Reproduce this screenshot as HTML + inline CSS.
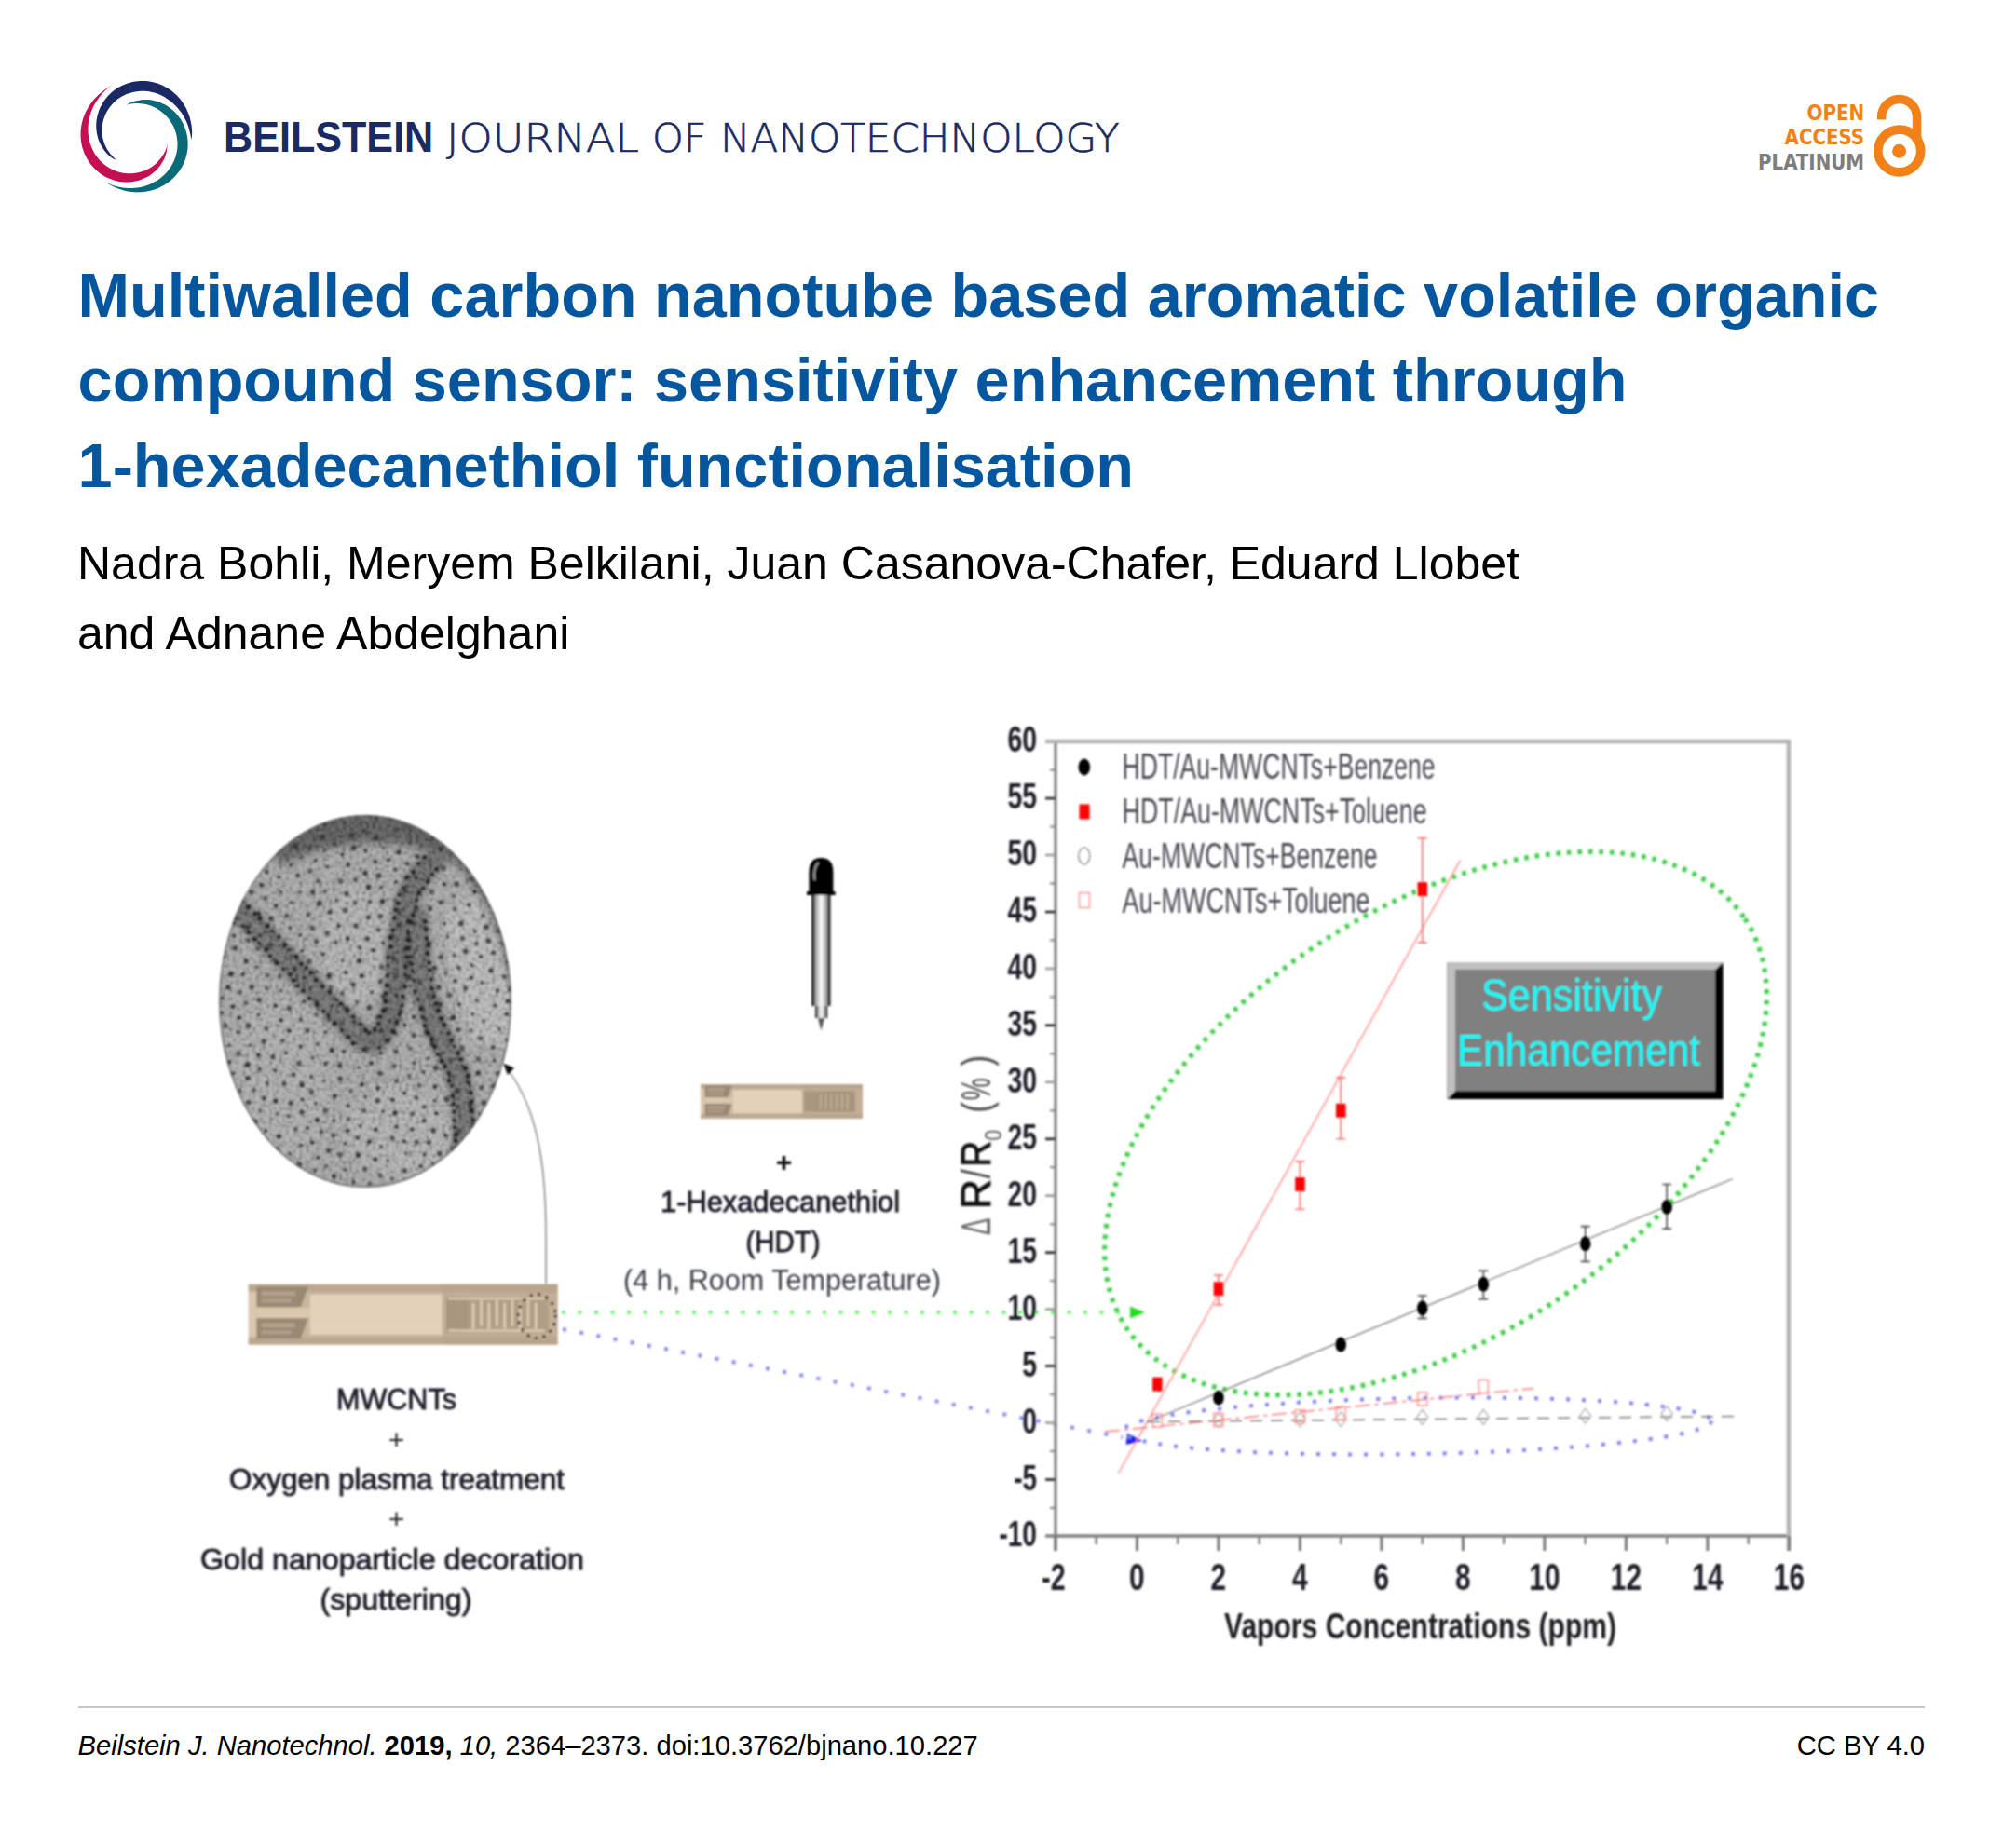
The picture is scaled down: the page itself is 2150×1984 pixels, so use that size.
<!DOCTYPE html>
<html lang="en">
<head>
<meta charset="utf-8">
<title>Beilstein Journal of Nanotechnology – Graphical Abstract</title>
<style>
html,body{margin:0;padding:0;background:#fff;}
#page{position:relative;width:2150px;height:1984px;background:#fff;overflow:hidden;font-family:"Liberation Sans",sans-serif;}
.abs{position:absolute;white-space:nowrap;}
#brand{left:0;top:119.5px;height:56px;line-height:56px;color:#1b2a63;}
#brand b,#brand span{position:absolute;top:0;display:inline-block;transform-origin:0 50%;}
#brand b{left:239.7px;font-family:"Liberation Sans",sans-serif;font-size:45.6px;font-weight:bold;transform:scaleX(0.946);}
#brand span{font-family:"DejaVu Sans",sans-serif;font-size:43px;font-weight:200;-webkit-text-stroke:0.6px #1b2a63;}
#brand .w1{left:478.9px;transform:scaleX(1.07);}
#brand .w2{left:700px;}
#brand .w3{left:772.8px;transform:scaleX(1.013);}
#oa{right:148.5px;top:107.5px;text-align:right;font-family:"DejaVu Sans Condensed","DejaVu Sans",sans-serif;font-weight:bold;font-size:23.2px;line-height:26.65px;color:#f28118;transform-origin:100% 50%;transform:scaleX(0.95);}
#oa .pl{color:#7d7d7d;}
#title{left:83.6px;top:271.6px;margin:0;font-size:66.67px;line-height:91.67px;font-weight:bold;color:#04569f;}
#authors{left:83px;top:567.5px;margin:0;font-size:50px;line-height:75px;color:#000;}
#rule{position:absolute;left:83.6px;top:1832.3px;width:1982.6px;height:2px;background:#c6c6c6;}
#cite{left:83.6px;top:1854px;font-size:29.17px;line-height:40px;color:#000;}
#lic{right:84px;top:1854px;font-size:29.17px;line-height:40px;color:#000;}
#fig{position:absolute;left:0;top:760px;}
</style>
</head>
<body>
<div id="page">

<div id="brand" class="abs"><b>BEILSTEIN</b> <span class="w1">JOURNAL</span> <span class="w2">OF</span> <span class="w3">NANOTECHNOLOGY</span></div>
<div id="oa" class="abs">OPEN<br>ACCESS<br><span class="pl">PLATINUM</span></div>

<h1 id="title" class="abs">Multiwalled carbon nanotube based aromatic volatile organic<br>compound sensor: sensitivity enhancement through<br>1-hexadecanethiol functionalisation</h1>
<p id="authors" class="abs">Nadra Bohli, Meryem Belkilani, Juan Casanova-Chafer, Eduard Llobet<br>and Adnane Abdelghani</p>
<svg id="art" width="2150" height="1984" viewBox="0 0 2150 1984" style="position:absolute;left:0;top:0">
<g id="logo">
<path fill="#1a2964" d="M205.44 150.17 C205.54 149.24 205.98 146.44 206.07 144.57 C206.16 142.71 206.08 140.83 205.96 138.98 C205.84 137.13 205.64 135.30 205.35 133.49 C205.06 131.68 204.69 129.89 204.24 128.13 C203.79 126.37 203.25 124.63 202.64 122.93 C202.03 121.24 201.34 119.57 200.58 117.94 C199.82 116.32 198.97 114.73 198.06 113.19 C197.14 111.65 196.15 110.15 195.10 108.71 C194.04 107.27 192.91 105.87 191.72 104.54 C190.53 103.21 189.27 101.93 187.95 100.73 C186.63 99.52 185.24 98.37 183.81 97.30 C182.37 96.23 180.87 95.23 179.33 94.31 C177.79 93.39 176.19 92.54 174.56 91.78 C172.92 91.02 171.24 90.33 169.53 89.74 C167.82 89.16 166.06 88.65 164.29 88.24 C162.52 87.83 160.72 87.51 158.90 87.29 C157.09 87.08 155.25 86.95 153.42 86.93 C151.58 86.90 149.73 86.98 147.90 87.15 C146.06 87.33 144.22 87.61 142.41 87.99 C140.60 88.36 138.79 88.84 137.02 89.42 C135.25 90.00 133.50 90.68 131.80 91.46 C130.10 92.24 128.43 93.11 126.82 94.08 C125.22 95.04 123.65 96.11 122.16 97.26 C120.67 98.40 119.23 99.64 117.87 100.96 C116.52 102.27 115.23 103.67 114.04 105.14 C112.84 106.60 111.72 108.14 110.71 109.74 C109.69 111.33 108.76 113.00 107.94 114.70 C107.12 116.41 106.39 118.17 105.78 119.96 C105.16 121.75 104.66 123.59 104.26 125.43 C103.87 127.28 103.59 129.16 103.42 131.03 C103.26 132.90 103.21 134.80 103.27 136.67 C103.34 138.54 103.52 140.42 103.81 142.26 C104.11 144.10 104.52 145.93 105.04 147.70 C105.56 149.47 106.19 151.22 106.93 152.90 C107.66 154.58 108.50 156.22 109.44 157.78 C110.37 159.33 111.41 160.83 112.52 162.23 C113.64 163.64 114.85 164.97 116.12 166.20 C117.40 167.43 118.70 168.64 120.16 169.60 C121.63 170.56 124.11 171.58 124.90 171.97 C124.33 171.38 122.60 169.61 121.46 168.40 C120.33 167.20 119.15 166.03 118.11 164.74 C117.08 163.45 116.12 162.07 115.25 160.65 C114.39 159.23 113.61 157.74 112.94 156.23 C112.26 154.71 111.68 153.13 111.20 151.54 C110.72 149.95 110.34 148.32 110.06 146.69 C109.78 145.05 109.60 143.39 109.53 141.74 C109.45 140.09 109.48 138.42 109.60 136.79 C109.72 135.15 109.95 133.51 110.27 131.90 C110.58 130.30 111.00 128.71 111.50 127.17 C111.99 125.62 112.59 124.11 113.26 122.64 C113.93 121.18 114.69 119.75 115.51 118.39 C116.34 117.02 117.24 115.71 118.21 114.46 C119.17 113.21 120.21 112.01 121.30 110.89 C122.39 109.77 123.54 108.70 124.73 107.72 C125.92 106.73 127.17 105.81 128.44 104.97 C129.72 104.13 131.04 103.36 132.39 102.66 C133.73 101.97 135.11 101.35 136.50 100.80 C137.90 100.26 139.32 99.79 140.75 99.39 C142.17 98.99 143.62 98.67 145.06 98.42 C146.51 98.17 147.97 98.00 149.42 97.89 C150.87 97.79 152.32 97.76 153.76 97.79 C155.21 97.82 156.65 97.93 158.07 98.09 C159.50 98.26 160.92 98.50 162.31 98.79 C163.71 99.09 165.10 99.45 166.46 99.86 C167.83 100.28 169.18 100.76 170.50 101.30 C171.82 101.83 173.13 102.43 174.41 103.08 C175.69 103.73 176.94 104.43 178.17 105.19 C179.40 105.95 180.61 106.77 181.78 107.64 C182.96 108.50 184.10 109.43 185.22 110.40 C186.34 111.37 187.42 112.40 188.48 113.48 C189.53 114.57 190.55 115.70 191.54 116.89 C192.52 118.08 193.47 119.32 194.38 120.62 C195.29 121.92 196.16 123.27 196.98 124.68 C197.80 126.09 198.59 127.55 199.32 129.08 C200.05 130.60 200.73 132.18 201.35 133.82 C201.97 135.45 202.55 137.15 203.05 138.90 C203.55 140.66 203.96 142.46 204.36 144.34 C204.75 146.22 205.26 149.20 205.44 150.17Z"/>
<path fill="#0b6a78" d="M135.40 112.67 C136.18 112.28 138.46 111.00 140.08 110.31 C141.70 109.61 143.38 108.99 145.11 108.51 C146.83 108.02 148.61 107.64 150.41 107.39 C152.20 107.14 154.04 107.01 155.88 107.00 C157.71 106.99 159.58 107.10 161.41 107.33 C163.25 107.56 165.10 107.92 166.91 108.39 C168.72 108.86 170.52 109.45 172.26 110.15 C174.01 110.86 175.73 111.68 177.38 112.60 C179.03 113.52 180.64 114.55 182.17 115.67 C183.70 116.79 185.18 118.02 186.56 119.32 C187.95 120.62 189.26 122.02 190.48 123.48 C191.70 124.94 192.84 126.49 193.87 128.09 C194.91 129.68 195.85 131.36 196.69 133.06 C197.52 134.77 198.26 136.53 198.89 138.32 C199.52 140.11 200.05 141.94 200.47 143.78 C200.88 145.62 201.19 147.50 201.39 149.37 C201.60 151.24 201.69 153.13 201.68 155.00 C201.67 156.87 201.55 158.75 201.33 160.60 C201.11 162.45 200.78 164.29 200.36 166.09 C199.94 167.89 199.42 169.67 198.81 171.41 C198.20 173.14 197.49 174.85 196.69 176.50 C195.90 178.14 195.02 179.75 194.06 181.29 C193.11 182.84 192.07 184.33 190.96 185.76 C189.85 187.18 188.67 188.55 187.43 189.85 C186.19 191.14 184.88 192.37 183.52 193.53 C182.16 194.68 180.73 195.77 179.27 196.78 C177.81 197.78 176.29 198.71 174.75 199.57 C173.20 200.42 171.60 201.20 169.98 201.89 C168.37 202.59 166.71 203.20 165.03 203.74 C163.36 204.27 161.65 204.73 159.93 205.10 C158.21 205.47 156.47 205.76 154.72 205.97 C152.97 206.19 151.21 206.32 149.44 206.36 C147.68 206.41 145.90 206.38 144.13 206.27 C142.36 206.16 140.58 205.96 138.81 205.69 C137.04 205.42 135.27 205.06 133.52 204.63 C131.76 204.19 130.01 203.68 128.28 203.09 C126.55 202.49 124.83 201.82 123.13 201.06 C121.43 200.31 119.75 199.47 118.10 198.55 C116.44 197.64 114.02 196.06 113.20 195.56 C114.10 195.96 116.78 197.24 118.57 197.94 C120.36 198.63 122.15 199.23 123.94 199.74 C125.72 200.25 127.50 200.66 129.26 200.99 C131.03 201.32 132.78 201.57 134.51 201.73 C136.24 201.90 137.96 201.98 139.64 201.99 C141.33 202.00 143.00 201.93 144.64 201.79 C146.28 201.65 147.89 201.44 149.47 201.16 C151.05 200.89 152.61 200.54 154.12 200.13 C155.64 199.73 157.12 199.26 158.57 198.73 C160.02 198.20 161.43 197.61 162.80 196.97 C164.17 196.32 165.51 195.62 166.80 194.87 C168.09 194.12 169.34 193.32 170.54 192.46 C171.75 191.61 172.91 190.71 174.02 189.76 C175.13 188.81 176.20 187.81 177.22 186.78 C178.24 185.74 179.20 184.66 180.12 183.54 C181.03 182.42 181.90 181.25 182.70 180.06 C183.50 178.86 184.26 177.63 184.95 176.36 C185.64 175.10 186.27 173.79 186.84 172.47 C187.41 171.14 187.92 169.78 188.36 168.41 C188.80 167.03 189.18 165.62 189.48 164.20 C189.79 162.78 190.03 161.34 190.20 159.89 C190.37 158.44 190.47 156.97 190.49 155.50 C190.52 154.03 190.47 152.54 190.34 151.07 C190.22 149.59 190.02 148.11 189.74 146.64 C189.47 145.17 189.12 143.70 188.69 142.26 C188.26 140.81 187.75 139.38 187.17 137.97 C186.59 136.57 185.93 135.18 185.19 133.83 C184.46 132.48 183.65 131.16 182.77 129.88 C181.89 128.61 180.93 127.36 179.91 126.18 C178.89 124.99 177.79 123.85 176.64 122.77 C175.48 121.70 174.25 120.67 172.98 119.72 C171.70 118.76 170.35 117.87 168.97 117.05 C167.58 116.24 166.13 115.49 164.65 114.83 C163.16 114.17 161.63 113.58 160.07 113.09 C158.51 112.60 156.90 112.18 155.28 111.87 C153.67 111.55 152.01 111.32 150.36 111.19 C148.70 111.05 147.02 111.02 145.35 111.07 C143.68 111.13 141.99 111.28 140.33 111.54 C138.67 111.81 136.22 112.48 135.40 112.67Z"/>
<path fill="#c60f52" d="M120.96 91.09 C120.11 91.61 117.49 93.15 115.84 94.21 C114.18 95.27 112.55 96.31 111.01 97.45 C109.47 98.59 107.99 99.79 106.57 101.04 C105.16 102.29 103.81 103.60 102.54 104.96 C101.26 106.31 100.05 107.72 98.92 109.16 C97.78 110.61 96.72 112.11 95.73 113.64 C94.74 115.16 93.82 116.74 92.99 118.34 C92.15 119.94 91.39 121.58 90.70 123.25 C90.02 124.91 89.42 126.61 88.90 128.33 C88.38 130.05 87.94 131.79 87.59 133.54 C87.24 135.30 86.97 137.08 86.79 138.86 C86.62 140.64 86.52 142.43 86.52 144.22 C86.52 146.01 86.60 147.81 86.78 149.60 C86.96 151.38 87.22 153.17 87.58 154.93 C87.94 156.69 88.39 158.45 88.93 160.17 C89.47 161.90 90.10 163.60 90.82 165.27 C91.54 166.93 92.35 168.57 93.24 170.15 C94.14 171.74 95.12 173.29 96.19 174.77 C97.25 176.26 98.40 177.70 99.63 179.07 C100.85 180.44 102.16 181.75 103.53 182.98 C104.91 184.21 106.36 185.37 107.86 186.45 C109.37 187.52 110.95 188.52 112.58 189.42 C114.20 190.32 115.89 191.14 117.61 191.85 C119.33 192.56 121.11 193.18 122.90 193.69 C124.70 194.20 126.54 194.61 128.38 194.91 C130.23 195.20 132.11 195.40 133.98 195.47 C135.84 195.55 137.73 195.52 139.60 195.38 C141.46 195.23 143.33 194.97 145.16 194.60 C146.99 194.24 148.81 193.75 150.57 193.17 C152.34 192.58 154.08 191.88 155.76 191.08 C157.43 190.29 159.06 189.38 160.62 188.39 C162.17 187.39 163.66 186.29 165.07 185.12 C166.47 183.94 167.81 182.67 169.04 181.34 C170.27 180.01 171.42 178.58 172.45 177.12 C173.49 175.65 174.43 174.11 175.25 172.53 C176.07 170.96 176.78 169.32 177.38 167.68 C177.97 166.03 178.45 164.34 178.80 162.65 C179.16 160.97 179.32 159.24 179.50 157.56 C179.68 155.89 179.82 153.43 179.89 152.61 C179.76 153.41 179.55 155.88 179.13 157.44 C178.71 159.01 178.05 160.54 177.38 162.02 C176.70 163.50 175.93 164.96 175.09 166.35 C174.24 167.74 173.30 169.08 172.30 170.36 C171.30 171.64 170.21 172.86 169.07 174.00 C167.92 175.15 166.71 176.23 165.44 177.23 C164.18 178.23 162.85 179.16 161.49 180.00 C160.13 180.84 158.71 181.61 157.27 182.29 C155.83 182.96 154.34 183.56 152.84 184.07 C151.35 184.57 149.81 184.99 148.28 185.33 C146.75 185.66 145.19 185.91 143.64 186.07 C142.09 186.23 140.53 186.30 138.98 186.29 C137.43 186.28 135.89 186.19 134.36 186.01 C132.84 185.84 131.32 185.58 129.84 185.25 C128.35 184.91 126.88 184.50 125.45 184.02 C124.02 183.53 122.62 182.97 121.25 182.35 C119.89 181.72 118.56 181.03 117.28 180.27 C115.99 179.52 114.75 178.70 113.56 177.82 C112.36 176.95 111.21 176.01 110.12 175.03 C109.02 174.05 107.97 173.01 106.98 171.93 C105.99 170.85 105.05 169.71 104.17 168.55 C103.29 167.38 102.47 166.17 101.70 164.92 C100.93 163.68 100.22 162.40 99.58 161.09 C98.93 159.78 98.34 158.43 97.81 157.06 C97.29 155.70 96.82 154.30 96.42 152.88 C96.01 151.46 95.67 150.02 95.39 148.56 C95.12 147.10 94.90 145.62 94.75 144.13 C94.60 142.64 94.52 141.13 94.50 139.61 C94.48 138.09 94.52 136.55 94.64 135.02 C94.76 133.48 94.94 131.93 95.19 130.37 C95.44 128.82 95.76 127.26 96.16 125.70 C96.55 124.15 97.02 122.58 97.56 121.03 C98.10 119.47 98.72 117.92 99.41 116.37 C100.10 114.83 100.87 113.29 101.72 111.77 C102.58 110.25 103.51 108.73 104.52 107.24 C105.54 105.76 106.63 104.28 107.82 102.84 C109.01 101.40 110.28 99.98 111.64 98.60 C113.00 97.23 114.43 95.83 115.99 94.58 C117.54 93.32 120.13 91.67 120.96 91.09Z"/>
</g>
<g id="lock" fill="none" stroke="#f28118">
<circle cx="2038.8" cy="162" r="22.9" stroke-width="9.6"/>
<path d="M2019.6 128.5 V125.6 A19 19 0 0 1 2057.6 125.6 V152" stroke-width="9.5"/>
<circle cx="2038.6" cy="162.2" r="7.5" fill="#f28118" stroke="none"/>
</g>
<defs>
<filter id="soft" x="-2%" y="-2%" width="104%" height="104%"><feGaussianBlur stdDeviation="1.15"/></filter>
<filter id="soft2" x="-5%" y="-5%" width="110%" height="110%"><feGaussianBlur stdDeviation="0.8"/></filter>
<filter id="blur3" x="-20%" y="-20%" width="140%" height="140%"><feGaussianBlur stdDeviation="3"/></filter>
<filter id="blur6" x="-20%" y="-20%" width="140%" height="140%"><feGaussianBlur stdDeviation="5"/></filter>
<filter id="grain" x="0" y="0" width="100%" height="100%"><feTurbulence type="fractalNoise" baseFrequency="0.28" numOctaves="3" seed="3" result="n"/><feColorMatrix type="matrix" values="2.4 0 0 0 -0.6  2.4 0 0 0 -0.6  2.4 0 0 0 -0.6  0 0 0 0 1"/></filter>
<clipPath id="temclip"><ellipse cx="392" cy="1075" rx="157" ry="200"/></clipPath>
<linearGradient id="tube" x1="0" x2="1" y1="0" y2="0"><stop offset="0" stop-color="#333"/><stop offset="0.13" stop-color="#333"/><stop offset="0.2" stop-color="#9a9a9a"/><stop offset="0.5" stop-color="#fff"/><stop offset="0.8" stop-color="#9a9a9a"/><stop offset="0.87" stop-color="#333"/><stop offset="1" stop-color="#333"/></linearGradient>
</defs>
<g id="figure" filter="url(#soft)" font-family="Liberation Sans, sans-serif">
<g clip-path="url(#temclip)">
<rect x="230" y="870" width="325" height="410" fill="#969696"/>
<g filter="url(#blur6)">
<ellipse cx="385" cy="1015" rx="42" ry="62" fill="#a3a3a3"/>
<path d="M476 985 Q482 1050 505 1115 L560 1130 L556 990 L505 960 Z" fill="#ababab"/>
<ellipse cx="430" cy="1215" rx="60" ry="50" fill="#a2a2a2"/>
<ellipse cx="300" cy="1160" rx="55" ry="90" fill="#9c9c9c"/>
<path d="M290 890 Q400 850 500 895 L520 950 Q470 905 400 905 Q340 908 300 930 Z" fill="#363636"/>
<path d="M470 905 Q530 960 548 1060 L565 1040 L540 930 L500 885 Z" fill="#3a3a3a"/>
</g>
<g filter="url(#blur3)" fill="none" stroke-linecap="round" stroke-linejoin="round">
<path d="M250 970 L300 1022 L345 1070 L386 1112 Q398 1126 410 1110 Q424 1090 426 1040 Q427 995 442 955 Q452 935 466 924" stroke="#464646" stroke-width="26"/>
<path d="M447 985 Q449 1040 457 1072 Q466 1102 488 1145 Q502 1180 497 1240" stroke="#484848" stroke-width="26"/>
<path d="M258 978 L345 1070 L388 1113" stroke="#5c5c5c" stroke-width="5"/>
<path d="M449 1000 Q451 1045 459 1073 Q468 1102 489 1146 Q501 1180 497 1235" stroke="#5c5c5c" stroke-width="4"/>
</g>
<rect x="230" y="870" width="325" height="410" filter="url(#grain)" opacity="0.3"/>
<g fill="#3a3a3a"><circle cx="434.5" cy="1100.5" r="2.3"/><circle cx="265.8" cy="1157.6" r="2.9"/><circle cx="305.1" cy="1016.6" r="2.1"/><circle cx="425.3" cy="1068.6" r="2.6"/><circle cx="341.4" cy="1242.8" r="2.4"/><circle cx="457.9" cy="1108.0" r="3.1"/><circle cx="345.2" cy="1215.1" r="2.2"/><circle cx="310.3" cy="1106.6" r="2.7"/><circle cx="427.9" cy="915.1" r="2.9"/><circle cx="396.4" cy="1225.7" r="2.7"/><circle cx="247.9" cy="1045.7" r="3.1"/><circle cx="455.0" cy="1188.6" r="2.3"/><circle cx="473.2" cy="911.7" r="3.1"/><circle cx="295.9" cy="1182.0" r="2.9"/><circle cx="299.4" cy="1220.1" r="3.1"/><circle cx="403.4" cy="1212.8" r="2.5"/><circle cx="324.2" cy="1020.8" r="2.1"/><circle cx="492.9" cy="1078.3" r="2.3"/><circle cx="490.9" cy="1171.0" r="2.9"/><circle cx="356.1" cy="1127.6" r="3.0"/><circle cx="477.0" cy="949.3" r="2.6"/><circle cx="473.2" cy="1093.4" r="3.0"/><circle cx="384.5" cy="1240.3" r="3.1"/><circle cx="405.7" cy="1168.2" r="2.6"/><circle cx="312.1" cy="929.1" r="2.1"/><circle cx="392.1" cy="937.4" r="2.9"/><circle cx="488.6" cy="1052.8" r="2.3"/><circle cx="478.1" cy="1218.8" r="2.5"/><circle cx="373.9" cy="928.4" r="2.6"/><circle cx="340.4" cy="1202.3" r="2.8"/><circle cx="307.7" cy="983.1" r="2.4"/><circle cx="346.2" cy="898.1" r="3.2"/><circle cx="466.3" cy="1039.0" r="2.7"/><circle cx="466.9" cy="1166.6" r="2.7"/><circle cx="421.4" cy="1180.8" r="2.5"/><circle cx="388.2" cy="1047.6" r="2.9"/><circle cx="299.3" cy="941.8" r="2.1"/><circle cx="359.3" cy="1176.7" r="2.7"/><circle cx="380.0" cy="1097.0" r="2.4"/><circle cx="438.6" cy="1049.1" r="3.2"/><circle cx="435.0" cy="956.3" r="2.3"/><circle cx="249.6" cy="1080.7" r="2.7"/><circle cx="505.7" cy="1049.8" r="2.4"/><circle cx="425.6" cy="1209.7" r="2.4"/><circle cx="472.1" cy="1078.2" r="3.1"/><circle cx="414.6" cy="1082.7" r="2.2"/><circle cx="392.4" cy="913.6" r="2.3"/><circle cx="377.8" cy="896.6" r="3.1"/><circle cx="504.7" cy="1186.4" r="2.9"/><circle cx="463.8" cy="1121.2" r="2.6"/><circle cx="295.6" cy="1079.7" r="2.6"/><circle cx="460.4" cy="1012.9" r="3.1"/><circle cx="324.1" cy="1164.7" r="3.1"/><circle cx="358.5" cy="1262.7" r="2.9"/><circle cx="392.3" cy="1177.6" r="2.0"/><circle cx="285.3" cy="1214.0" r="2.3"/><circle cx="385.4" cy="1031.5" r="3.0"/><circle cx="301.9" cy="1095.3" r="2.6"/><circle cx="408.6" cy="1131.1" r="2.2"/><circle cx="295.2" cy="1149.2" r="2.3"/><circle cx="423.5" cy="1109.2" r="2.2"/><circle cx="358.3" cy="1203.1" r="2.1"/><circle cx="322.7" cy="1123.6" r="2.3"/><circle cx="317.5" cy="908.8" r="3.2"/><circle cx="363.5" cy="994.3" r="2.4"/><circle cx="451.5" cy="1251.9" r="2.3"/><circle cx="342.8" cy="969.8" r="3.2"/><circle cx="430.1" cy="1085.8" r="2.9"/><circle cx="322.2" cy="1003.9" r="2.1"/><circle cx="400.8" cy="1020.2" r="2.5"/><circle cx="482.5" cy="1155.0" r="2.2"/><circle cx="390.2" cy="891.9" r="2.2"/><circle cx="356.2" cy="1080.0" r="2.1"/><circle cx="278.9" cy="1147.7" r="2.2"/><circle cx="403.7" cy="899.9" r="3.2"/><circle cx="244.8" cy="1060.0" r="2.9"/><circle cx="457.2" cy="997.0" r="2.9"/><circle cx="395.3" cy="985.0" r="2.7"/><circle cx="265.6" cy="1143.0" r="3.2"/><circle cx="422.5" cy="1029.3" r="2.8"/><circle cx="403.8" cy="878.8" r="2.1"/><circle cx="468.2" cy="1195.3" r="2.5"/><circle cx="409.1" cy="952.9" r="2.0"/><circle cx="264.2" cy="1032.0" r="2.8"/><circle cx="543.8" cy="1089.0" r="2.4"/><circle cx="316.5" cy="1040.3" r="3.0"/><circle cx="278.0" cy="980.8" r="2.7"/><circle cx="388.6" cy="1164.2" r="2.8"/><circle cx="335.3" cy="1226.4" r="2.5"/><circle cx="277.3" cy="1132.7" r="2.6"/><circle cx="434.0" cy="1173.6" r="2.3"/><circle cx="298.1" cy="1233.1" r="2.2"/><circle cx="371.0" cy="1044.0" r="2.4"/><circle cx="530.6" cy="1138.3" r="2.1"/><circle cx="455.7" cy="1239.6" r="2.2"/><circle cx="444.9" cy="978.1" r="2.1"/><circle cx="383.9" cy="1221.7" r="2.4"/><circle cx="353.4" cy="1047.5" r="3.2"/><circle cx="425.0" cy="946.8" r="2.2"/><circle cx="373.7" cy="1187.2" r="2.2"/><circle cx="395.6" cy="952.5" r="3.1"/><circle cx="424.0" cy="1194.7" r="2.9"/><circle cx="446.4" cy="942.3" r="2.5"/><circle cx="334.2" cy="1155.9" r="2.1"/><circle cx="486.4" cy="1092.5" r="3.2"/><circle cx="280.7" cy="950.3" r="2.8"/><circle cx="373.0" cy="1214.0" r="2.5"/><circle cx="319.6" cy="939.9" r="2.5"/><circle cx="279.3" cy="1004.2" r="2.5"/><circle cx="307.0" cy="1130.4" r="2.2"/><circle cx="513.2" cy="1151.9" r="3.0"/><circle cx="246.3" cy="1140.2" r="2.4"/><circle cx="265.7" cy="995.4" r="3.0"/><circle cx="496.5" cy="1144.3" r="2.0"/><circle cx="379.7" cy="910.5" r="3.1"/><circle cx="487.6" cy="1025.7" r="2.1"/><circle cx="440.0" cy="1033.4" r="2.4"/><circle cx="373.2" cy="1007.7" r="2.7"/><circle cx="367.2" cy="917.4" r="2.2"/><circle cx="509.5" cy="957.5" r="2.7"/><circle cx="256.8" cy="1092.6" r="2.7"/><circle cx="255.7" cy="1108.3" r="2.4"/><circle cx="311.2" cy="996.1" r="2.2"/><circle cx="402.7" cy="1244.7" r="2.7"/><circle cx="452.5" cy="1082.0" r="2.4"/><circle cx="260.7" cy="1046.3" r="2.4"/><circle cx="545.0" cy="1074.7" r="2.7"/><circle cx="372.4" cy="1083.2" r="2.9"/><circle cx="428.6" cy="993.0" r="2.8"/><circle cx="454.7" cy="1151.0" r="2.2"/><circle cx="296.1" cy="972.3" r="2.6"/><circle cx="455.1" cy="1203.0" r="2.5"/><circle cx="348.6" cy="885.1" r="2.7"/><circle cx="398.5" cy="1141.3" r="2.6"/><circle cx="324.4" cy="1180.6" r="2.2"/><circle cx="238.7" cy="1071.5" r="2.1"/><circle cx="410.4" cy="967.7" r="3.1"/><circle cx="326.3" cy="1049.5" r="2.6"/><circle cx="251.3" cy="991.1" r="2.4"/><circle cx="433.9" cy="1225.4" r="2.4"/><circle cx="418.1" cy="878.8" r="2.2"/><circle cx="464.6" cy="899.8" r="2.6"/><circle cx="409.2" cy="1106.2" r="2.6"/><circle cx="416.7" cy="923.3" r="2.3"/></g>
<g fill="#484848"><circle cx="364.9" cy="1144.1" r="3.0"/><circle cx="367.5" cy="1031.5" r="2.0"/><circle cx="491.9" cy="1105.6" r="2.9"/><circle cx="444.5" cy="1141.0" r="2.3"/><circle cx="286.3" cy="935.9" r="2.6"/><circle cx="444.9" cy="991.8" r="2.8"/><circle cx="425.0" cy="1128.8" r="2.6"/><circle cx="442.2" cy="1212.6" r="2.7"/><circle cx="402.8" cy="925.0" r="2.7"/><circle cx="351.5" cy="930.6" r="2.2"/><circle cx="266.5" cy="1101.3" r="3.2"/><circle cx="428.3" cy="979.5" r="2.8"/><circle cx="483.4" cy="1139.7" r="2.3"/><circle cx="252.4" cy="1017.8" r="3.1"/><circle cx="450.5" cy="1054.7" r="2.8"/><circle cx="312.0" cy="1184.6" r="3.0"/><circle cx="516.0" cy="1027.0" r="2.5"/><circle cx="270.0" cy="1059.8" r="3.0"/><circle cx="503.2" cy="971.3" r="2.6"/><circle cx="490.2" cy="948.9" r="3.0"/><circle cx="315.1" cy="1153.7" r="2.6"/><circle cx="408.1" cy="1152.5" r="2.9"/><circle cx="372.8" cy="1113.5" r="2.5"/><circle cx="467.6" cy="1146.4" r="3.1"/><circle cx="346.7" cy="1024.6" r="2.6"/><circle cx="286.0" cy="1104.4" r="2.4"/><circle cx="333.2" cy="1061.5" r="2.4"/><circle cx="460.3" cy="1226.6" r="2.8"/><circle cx="447.9" cy="919.4" r="2.9"/><circle cx="492.5" cy="1039.1" r="2.5"/><circle cx="535.1" cy="998.8" r="3.1"/><circle cx="450.1" cy="958.9" r="2.6"/><circle cx="322.8" cy="1229.7" r="2.4"/><circle cx="381.9" cy="994.0" r="3.1"/><circle cx="323.8" cy="1194.0" r="3.0"/><circle cx="493.1" cy="1214.3" r="3.0"/><circle cx="263.5" cy="980.4" r="2.1"/><circle cx="278.2" cy="1073.5" r="3.0"/><circle cx="329.9" cy="1106.3" r="2.7"/><circle cx="283.1" cy="1117.9" r="3.0"/><circle cx="251.0" cy="1004.4" r="2.5"/><circle cx="423.3" cy="890.8" r="2.3"/><circle cx="505.7" cy="943.6" r="2.6"/><circle cx="534.0" cy="1063.5" r="2.5"/><circle cx="294.4" cy="1031.0" r="2.5"/><circle cx="534.4" cy="1152.6" r="2.9"/><circle cx="397.0" cy="968.0" r="2.5"/><circle cx="326.2" cy="1075.0" r="2.5"/><circle cx="305.1" cy="1163.2" r="2.7"/><circle cx="333.0" cy="892.7" r="2.2"/><circle cx="379.3" cy="1269.5" r="2.4"/><circle cx="397.3" cy="1270.4" r="2.1"/><circle cx="529.2" cy="1124.4" r="2.7"/><circle cx="439.8" cy="904.7" r="2.3"/><circle cx="338.8" cy="923.8" r="2.4"/><circle cx="383.0" cy="1075.8" r="2.2"/><circle cx="354.1" cy="979.2" r="3.0"/><circle cx="509.9" cy="1000.0" r="2.2"/><circle cx="499.7" cy="1021.3" r="3.1"/><circle cx="470.7" cy="1059.9" r="3.1"/><circle cx="439.2" cy="1004.8" r="2.2"/><circle cx="529.7" cy="1022.7" r="2.8"/><circle cx="408.1" cy="1053.9" r="2.6"/><circle cx="477.1" cy="991.6" r="2.3"/><circle cx="338.8" cy="1184.8" r="2.1"/><circle cx="473.4" cy="1027.4" r="2.8"/><circle cx="292.9" cy="1134.6" r="2.8"/><circle cx="392.7" cy="1125.6" r="2.8"/><circle cx="321.2" cy="1250.1" r="3.1"/><circle cx="461.7" cy="975.6" r="2.9"/><circle cx="290.9" cy="986.0" r="3.2"/><circle cx="411.1" cy="1193.3" r="2.3"/><circle cx="365.2" cy="1158.0" r="3.0"/><circle cx="507.4" cy="1088.8" r="2.2"/><circle cx="456.8" cy="1094.5" r="2.8"/><circle cx="471.9" cy="1238.4" r="3.0"/><circle cx="473.1" cy="968.8" r="2.7"/><circle cx="348.2" cy="913.6" r="2.0"/><circle cx="381.2" cy="944.5" r="2.4"/><circle cx="238.3" cy="1087.5" r="2.4"/><circle cx="437.4" cy="927.5" r="2.5"/><circle cx="522.0" cy="995.3" r="3.2"/><circle cx="379.2" cy="1056.9" r="3.0"/><circle cx="494.9" cy="991.5" r="3.2"/><circle cx="444.1" cy="1091.8" r="2.8"/><circle cx="349.5" cy="1108.2" r="2.1"/><circle cx="386.2" cy="1017.7" r="2.4"/><circle cx="322.8" cy="1094.6" r="2.4"/><circle cx="543.8" cy="1116.5" r="2.2"/><circle cx="425.4" cy="1048.0" r="2.7"/><circle cx="543.8" cy="1032.7" r="2.1"/><circle cx="459.7" cy="943.0" r="2.4"/><circle cx="396.4" cy="1081.7" r="3.2"/><circle cx="250.0" cy="1152.6" r="2.5"/><circle cx="527.0" cy="1041.8" r="3.1"/><circle cx="479.5" cy="1180.3" r="3.2"/><circle cx="399.1" cy="1065.5" r="2.2"/><circle cx="240.7" cy="1027.4" r="2.0"/><circle cx="372.0" cy="959.4" r="2.9"/><circle cx="269.8" cy="957.9" r="2.7"/><circle cx="349.6" cy="1141.8" r="2.6"/><circle cx="465.1" cy="1213.8" r="3.1"/><circle cx="418.4" cy="1096.2" r="2.7"/><circle cx="357.7" cy="1218.9" r="2.6"/><circle cx="394.3" cy="1007.7" r="3.0"/><circle cx="332.1" cy="911.1" r="2.6"/><circle cx="369.2" cy="1128.5" r="2.5"/><circle cx="359.3" cy="906.2" r="2.9"/><circle cx="339.7" cy="1074.7" r="2.2"/><circle cx="303.6" cy="1117.6" r="2.3"/><circle cx="286.8" cy="1162.6" r="2.3"/><circle cx="524.4" cy="1010.2" r="3.1"/><circle cx="434.4" cy="1256.8" r="2.8"/><circle cx="370.6" cy="1255.9" r="2.2"/><circle cx="268.5" cy="1121.9" r="2.0"/><circle cx="499.7" cy="1061.3" r="2.7"/><circle cx="339.5" cy="1011.1" r="2.7"/><circle cx="386.8" cy="1208.9" r="2.2"/><circle cx="519.2" cy="1183.8" r="3.1"/><circle cx="310.4" cy="1082.4" r="2.9"/><circle cx="519.1" cy="1095.9" r="2.0"/><circle cx="507.6" cy="1206.6" r="2.5"/><circle cx="409.1" cy="1230.8" r="2.0"/><circle cx="491.7" cy="1188.0" r="2.8"/><circle cx="290.5" cy="1014.5" r="3.2"/><circle cx="406.4" cy="940.3" r="3.2"/><circle cx="547.6" cy="1062.1" r="3.1"/><circle cx="506.2" cy="1036.3" r="2.2"/><circle cx="411.0" cy="1012.2" r="2.3"/><circle cx="352.9" cy="1235.3" r="2.9"/><circle cx="353.0" cy="1094.3" r="2.5"/><circle cx="277.7" cy="1089.4" r="2.1"/><circle cx="266.4" cy="1183.5" r="2.8"/><circle cx="411.9" cy="1069.5" r="3.2"/><circle cx="466.6" cy="1181.7" r="2.2"/><circle cx="330.0" cy="1210.9" r="2.4"/><circle cx="444.1" cy="1111.8" r="2.7"/><circle cx="274.0" cy="1204.5" r="3.2"/><circle cx="369.7" cy="883.2" r="2.6"/><circle cx="335.6" cy="958.0" r="2.9"/><circle cx="370.5" cy="1227.6" r="2.2"/><circle cx="529.8" cy="1166.1" r="2.8"/><circle cx="472.1" cy="1132.8" r="2.5"/><circle cx="405.4" cy="1181.7" r="3.0"/><circle cx="283.4" cy="1179.1" r="2.8"/><circle cx="464.6" cy="1249.5" r="2.0"/></g>
<g fill="#565656"><circle cx="300.1" cy="1048.1" r="2.6"/><circle cx="495.8" cy="1125.5" r="3.2"/><circle cx="330.8" cy="982.0" r="2.6"/><circle cx="354.7" cy="1060.3" r="2.5"/><circle cx="348.8" cy="957.1" r="2.3"/><circle cx="381.2" cy="969.1" r="2.7"/><circle cx="445.2" cy="1066.5" r="2.3"/><circle cx="515.7" cy="1114.7" r="2.8"/><circle cx="513.3" cy="1137.0" r="2.9"/><circle cx="298.4" cy="916.7" r="2.7"/><circle cx="279.2" cy="1192.6" r="2.2"/><circle cx="453.1" cy="907.3" r="2.4"/><circle cx="374.1" cy="1201.2" r="2.5"/><circle cx="425.6" cy="1160.7" r="2.6"/><circle cx="536.0" cy="1104.7" r="2.2"/><circle cx="390.7" cy="1192.3" r="2.8"/><circle cx="347.9" cy="1160.5" r="2.0"/><circle cx="421.8" cy="1004.7" r="3.0"/><circle cx="367.3" cy="1066.2" r="2.7"/><circle cx="450.4" cy="892.1" r="2.7"/><circle cx="476.2" cy="932.2" r="3.1"/><circle cx="501.2" cy="1157.1" r="2.9"/><circle cx="517.5" cy="1055.1" r="2.5"/><circle cx="404.7" cy="1092.4" r="2.4"/><circle cx="531.4" cy="1079.4" r="2.5"/><circle cx="442.3" cy="1196.0" r="2.8"/><circle cx="266.1" cy="1009.4" r="2.7"/><circle cx="480.6" cy="1005.8" r="2.2"/><circle cx="242.1" cy="1101.6" r="3.0"/><circle cx="360.5" cy="1011.4" r="2.5"/><circle cx="420.9" cy="1265.7" r="2.2"/><circle cx="301.6" cy="1063.7" r="2.1"/><circle cx="384.8" cy="1146.0" r="2.0"/><circle cx="516.8" cy="1167.5" r="3.1"/><circle cx="316.9" cy="1058.6" r="2.2"/><circle cx="440.4" cy="1125.8" r="2.3"/><circle cx="376.7" cy="1171.0" r="2.3"/><circle cx="294.5" cy="1000.9" r="2.0"/><circle cx="361.0" cy="892.7" r="2.1"/><circle cx="488.2" cy="976.0" r="2.5"/><circle cx="395.5" cy="1109.8" r="2.1"/><circle cx="276.7" cy="1018.3" r="2.9"/><circle cx="301.7" cy="958.0" r="2.3"/><circle cx="382.2" cy="878.8" r="2.5"/><circle cx="439.2" cy="1155.2" r="2.4"/><circle cx="286.2" cy="1060.9" r="2.4"/><circle cx="339.5" cy="1089.4" r="2.3"/><circle cx="446.7" cy="1020.0" r="2.6"/><circle cx="541.5" cy="1048.6" r="2.9"/><circle cx="421.1" cy="1222.1" r="3.0"/><circle cx="450.0" cy="1165.3" r="2.5"/><circle cx="511.7" cy="1073.8" r="2.4"/><circle cx="423.1" cy="1144.5" r="2.7"/><circle cx="521.5" cy="964.6" r="2.0"/><circle cx="335.7" cy="1135.8" r="2.3"/><circle cx="263.9" cy="1076.7" r="2.5"/><circle cx="416.3" cy="1245.8" r="2.0"/><circle cx="482.9" cy="1121.0" r="2.2"/><circle cx="272.9" cy="1170.3" r="2.5"/><circle cx="452.0" cy="1037.8" r="2.5"/><circle cx="436.0" cy="1238.3" r="2.0"/><circle cx="505.4" cy="1106.2" r="2.1"/><circle cx="365.9" cy="946.2" r="2.9"/><circle cx="351.2" cy="1001.8" r="3.0"/><circle cx="424.4" cy="933.6" r="2.6"/><circle cx="338.1" cy="1256.7" r="2.5"/><circle cx="494.4" cy="925.4" r="2.5"/><circle cx="408.4" cy="983.6" r="3.2"/><circle cx="515.1" cy="1196.2" r="2.1"/><circle cx="335.3" cy="996.5" r="3.1"/><circle cx="349.3" cy="1192.5" r="3.1"/><circle cx="365.2" cy="1239.8" r="3.1"/><circle cx="317.2" cy="1212.1" r="2.7"/><circle cx="411.6" cy="910.4" r="2.1"/><circle cx="486.5" cy="1202.3" r="2.2"/><circle cx="284.9" cy="964.3" r="2.6"/><circle cx="473.4" cy="1108.5" r="2.3"/><circle cx="246.0" cy="1122.1" r="2.1"/><circle cx="447.1" cy="1226.1" r="2.9"/><circle cx="406.3" cy="998.5" r="2.8"/><circle cx="409.6" cy="1038.2" r="3.0"/><circle cx="423.9" cy="966.2" r="2.3"/><circle cx="339.8" cy="1043.0" r="2.4"/><circle cx="391.6" cy="1254.9" r="3.0"/><circle cx="413.9" cy="1118.2" r="2.4"/><circle cx="341.6" cy="945.9" r="2.7"/><circle cx="370.5" cy="977.2" r="3.1"/><circle cx="461.4" cy="923.7" r="2.7"/><circle cx="307.2" cy="1029.5" r="2.2"/><circle cx="518.5" cy="983.0" r="2.6"/><circle cx="511.3" cy="1013.2" r="2.6"/><circle cx="496.5" cy="1007.4" r="2.9"/><circle cx="275.8" cy="1038.3" r="2.2"/><circle cx="321.0" cy="1141.4" r="3.1"/><circle cx="257.6" cy="1170.5" r="2.2"/><circle cx="321.9" cy="957.8" r="2.1"/><circle cx="312.7" cy="968.8" r="2.2"/><circle cx="366.4" cy="1098.2" r="2.9"/><circle cx="433.3" cy="1020.3" r="2.6"/><circle cx="334.5" cy="1172.2" r="2.9"/><circle cx="459.7" cy="1068.8" r="3.1"/><circle cx="310.0" cy="1198.5" r="2.2"/><circle cx="256.2" cy="1131.0" r="3.0"/><circle cx="310.7" cy="1238.3" r="2.1"/><circle cx="340.7" cy="1121.2" r="2.3"/><circle cx="297.6" cy="1195.6" r="2.1"/><circle cx="539.9" cy="1012.9" r="2.5"/><circle cx="459.6" cy="1136.1" r="2.1"/><circle cx="463.3" cy="957.7" r="2.9"/><circle cx="482.3" cy="1068.4" r="3.2"/><circle cx="436.9" cy="888.0" r="3.1"/><circle cx="478.3" cy="1044.8" r="2.2"/><circle cx="350.4" cy="1251.9" r="2.1"/><circle cx="361.4" cy="966.8" r="2.3"/><circle cx="331.9" cy="1032.2" r="3.2"/><circle cx="486.0" cy="1233.2" r="3.1"/><circle cx="485.3" cy="916.0" r="2.2"/><circle cx="323.1" cy="921.0" r="2.2"/><circle cx="408.0" cy="1261.9" r="2.8"/><circle cx="286.9" cy="1047.1" r="2.6"/><circle cx="446.7" cy="1178.3" r="2.7"/><circle cx="487.1" cy="961.9" r="2.3"/><circle cx="257.6" cy="1065.1" r="2.7"/><circle cx="332.9" cy="935.4" r="2.6"/></g>
<g fill="#262626"><circle cx="245.5" cy="980.1" r="2.3"/><circle cx="258.8" cy="967.1" r="2.8"/><circle cx="252.2" cy="986.0" r="2.3"/><circle cx="266.5" cy="973.8" r="3.0"/><circle cx="260.3" cy="994.0" r="2.2"/><circle cx="273.8" cy="980.9" r="2.6"/><circle cx="266.7" cy="1001.2" r="2.5"/><circle cx="279.0" cy="986.0" r="2.9"/><circle cx="273.4" cy="1008.2" r="2.8"/><circle cx="287.1" cy="994.0" r="2.9"/><circle cx="278.4" cy="1012.7" r="2.2"/><circle cx="291.7" cy="999.4" r="2.1"/><circle cx="285.6" cy="1019.1" r="2.9"/><circle cx="299.5" cy="1005.7" r="2.5"/><circle cx="289.9" cy="1026.5" r="2.4"/><circle cx="305.8" cy="1014.1" r="2.7"/><circle cx="297.2" cy="1033.8" r="2.8"/><circle cx="310.4" cy="1019.7" r="2.1"/><circle cx="304.1" cy="1040.2" r="2.3"/><circle cx="318.0" cy="1026.8" r="2.9"/><circle cx="311.2" cy="1046.2" r="2.6"/><circle cx="323.6" cy="1034.8" r="2.6"/><circle cx="315.1" cy="1052.6" r="2.7"/><circle cx="328.7" cy="1038.8" r="2.4"/><circle cx="319.8" cy="1058.6" r="2.3"/><circle cx="333.6" cy="1044.1" r="2.7"/><circle cx="325.6" cy="1063.5" r="2.6"/><circle cx="339.2" cy="1052.3" r="2.7"/><circle cx="332.1" cy="1071.9" r="2.4"/><circle cx="346.3" cy="1059.2" r="2.6"/><circle cx="340.1" cy="1078.4" r="3.0"/><circle cx="353.8" cy="1065.0" r="2.8"/><circle cx="347.2" cy="1085.7" r="2.4"/><circle cx="361.2" cy="1073.3" r="2.1"/><circle cx="352.4" cy="1090.5" r="2.4"/><circle cx="365.9" cy="1077.5" r="2.6"/><circle cx="359.3" cy="1098.5" r="2.9"/><circle cx="373.2" cy="1084.7" r="2.5"/><circle cx="367.3" cy="1105.8" r="2.3"/><circle cx="379.3" cy="1091.7" r="2.4"/><circle cx="374.3" cy="1113.2" r="2.4"/><circle cx="387.1" cy="1099.5" r="2.3"/><circle cx="379.0" cy="1120.3" r="2.7"/><circle cx="392.4" cy="1105.9" r="2.6"/><circle cx="390.6" cy="1127.3" r="2.3"/><circle cx="396.2" cy="1108.9" r="2.3"/><circle cx="407.0" cy="1124.8" r="2.3"/><circle cx="396.5" cy="1108.9" r="2.4"/><circle cx="416.2" cy="1116.7" r="2.7"/><circle cx="402.1" cy="1105.2" r="2.7"/><circle cx="422.1" cy="1107.3" r="2.9"/><circle cx="406.2" cy="1098.7" r="2.3"/><circle cx="425.7" cy="1097.5" r="2.8"/><circle cx="408.0" cy="1091.6" r="2.6"/><circle cx="428.6" cy="1089.4" r="2.4"/><circle cx="411.8" cy="1084.6" r="2.9"/><circle cx="431.1" cy="1079.8" r="2.4"/><circle cx="413.7" cy="1074.9" r="3.0"/><circle cx="432.3" cy="1069.7" r="2.5"/><circle cx="414.2" cy="1065.9" r="2.5"/><circle cx="434.7" cy="1059.4" r="2.6"/><circle cx="415.1" cy="1057.8" r="2.9"/><circle cx="434.8" cy="1046.5" r="2.2"/><circle cx="415.9" cy="1047.2" r="2.5"/><circle cx="435.3" cy="1037.6" r="2.6"/><circle cx="416.4" cy="1036.6" r="2.2"/><circle cx="436.8" cy="1027.6" r="2.7"/><circle cx="416.4" cy="1027.5" r="2.6"/><circle cx="436.0" cy="1018.2" r="2.7"/><circle cx="419.1" cy="1016.7" r="2.7"/><circle cx="437.0" cy="1009.2" r="2.2"/><circle cx="419.2" cy="1006.4" r="3.0"/><circle cx="438.6" cy="1001.6" r="2.2"/><circle cx="421.8" cy="998.6" r="2.5"/><circle cx="441.2" cy="990.4" r="2.6"/><circle cx="423.2" cy="985.6" r="2.6"/><circle cx="443.5" cy="982.5" r="2.7"/><circle cx="424.5" cy="976.8" r="2.6"/><circle cx="446.2" cy="973.8" r="2.2"/><circle cx="427.1" cy="969.6" r="2.7"/><circle cx="447.0" cy="966.6" r="2.3"/><circle cx="428.9" cy="960.8" r="2.3"/><circle cx="449.7" cy="958.7" r="2.8"/><circle cx="433.3" cy="953.1" r="2.3"/><circle cx="454.2" cy="953.7" r="2.4"/><circle cx="436.7" cy="942.3" r="2.8"/><circle cx="459.3" cy="946.6" r="2.6"/><circle cx="443.6" cy="936.2" r="2.6"/><circle cx="463.7" cy="938.8" r="2.3"/><circle cx="449.0" cy="927.3" r="2.2"/><circle cx="468.7" cy="933.2" r="2.6"/><circle cx="455.6" cy="920.4" r="2.7"/><circle cx="438.3" cy="989.4" r="2.9"/><circle cx="456.2" cy="989.3" r="2.8"/><circle cx="437.6" cy="999.0" r="2.1"/><circle cx="457.2" cy="998.8" r="2.1"/><circle cx="439.0" cy="1009.3" r="3.0"/><circle cx="457.7" cy="1007.3" r="2.6"/><circle cx="438.6" cy="1017.9" r="2.8"/><circle cx="459.2" cy="1015.1" r="2.7"/><circle cx="440.8" cy="1027.2" r="2.3"/><circle cx="458.6" cy="1023.6" r="2.9"/><circle cx="441.9" cy="1035.0" r="2.5"/><circle cx="460.5" cy="1033.4" r="2.6"/><circle cx="442.7" cy="1042.9" r="2.1"/><circle cx="461.5" cy="1041.6" r="2.4"/><circle cx="444.4" cy="1052.9" r="2.1"/><circle cx="463.1" cy="1051.6" r="2.3"/><circle cx="445.4" cy="1064.0" r="2.2"/><circle cx="463.6" cy="1061.2" r="2.6"/><circle cx="448.6" cy="1072.7" r="2.3"/><circle cx="465.7" cy="1069.6" r="2.6"/><circle cx="451.8" cy="1083.1" r="2.8"/><circle cx="467.6" cy="1077.2" r="2.5"/><circle cx="453.9" cy="1092.3" r="2.4"/><circle cx="470.5" cy="1084.8" r="3.0"/><circle cx="455.9" cy="1101.2" r="2.7"/><circle cx="474.3" cy="1093.6" r="2.6"/><circle cx="459.5" cy="1109.7" r="2.8"/><circle cx="476.8" cy="1100.3" r="2.8"/><circle cx="463.6" cy="1115.8" r="3.0"/><circle cx="481.5" cy="1109.3" r="2.5"/><circle cx="466.6" cy="1123.8" r="2.8"/><circle cx="484.8" cy="1116.8" r="2.7"/><circle cx="469.4" cy="1131.9" r="2.2"/><circle cx="487.7" cy="1123.5" r="2.1"/><circle cx="474.0" cy="1139.3" r="2.9"/><circle cx="491.8" cy="1130.5" r="2.8"/><circle cx="477.7" cy="1144.7" r="2.7"/><circle cx="494.7" cy="1137.4" r="2.7"/><circle cx="481.6" cy="1151.9" r="2.3"/><circle cx="499.6" cy="1146.9" r="3.0"/><circle cx="481.8" cy="1160.3" r="2.8"/><circle cx="502.3" cy="1155.0" r="2.8"/><circle cx="484.7" cy="1165.8" r="2.2"/><circle cx="502.6" cy="1162.3" r="2.5"/><circle cx="485.8" cy="1176.6" r="2.7"/><circle cx="505.5" cy="1173.2" r="2.7"/><circle cx="486.5" cy="1185.2" r="2.5"/><circle cx="506.1" cy="1182.7" r="2.8"/><circle cx="487.3" cy="1193.4" r="2.5"/><circle cx="506.2" cy="1192.2" r="3.0"/><circle cx="488.0" cy="1202.9" r="2.2"/><circle cx="507.7" cy="1202.0" r="2.6"/><circle cx="488.0" cy="1210.4" r="2.3"/><circle cx="508.4" cy="1209.2" r="2.3"/><circle cx="489.4" cy="1218.2" r="2.9"/><circle cx="508.2" cy="1218.1" r="2.2"/><circle cx="489.1" cy="1224.5" r="2.6"/><circle cx="506.5" cy="1226.1" r="2.8"/><circle cx="487.6" cy="1235.9" r="2.9"/><circle cx="506.3" cy="1237.4" r="2.1"/></g>
</g>
<ellipse cx="392" cy="1075" rx="156" ry="199" fill="none" stroke="#666" stroke-width="2.5" opacity="0.5"/>
<path d="M586 1390 V1330 C586 1260 580 1195 545 1148" fill="none" stroke="#444" stroke-width="1.0"/>
<path d="M540 1141.5 L552 1146.5 L545 1154 Z" fill="#111"/>
<rect x="266.8" y="1378.8" width="331.6" height="64.7" fill="#c9b59d"/>
<rect x="266.8" y="1378.8" width="331.6" height="8.0" fill="#bca890"/>
<rect x="266.8" y="1435.8" width="331.6" height="7.7" fill="#bca890"/>
<rect x="266.8" y="1386.8" width="9.0" height="49.0" fill="#d9c6ad"/>
<rect x="332.8" y="1389.8" width="142.0" height="43.0" fill="#e4d1b9"/>
<rect x="275.8" y="1403.8" width="57.0" height="11.0" fill="#dac7ae"/>
<rect x="474.8" y="1378.8" width="123.6" height="64.7" fill="#b9a58d"/>
<rect x="474.8" y="1387.8" width="123.6" height="47.0" fill="#c3af97"/>
<rect x="478.8" y="1391.8" width="24.0" height="39.0" fill="#a9967f"/>
<path d="M275.3 1381.3 H330.8 L322.8 1403.3 H275.3 Z" fill="#9a8974"/>
<rect x="280.8" y="1386.3" width="36.0" height="5.0" fill="#b3a18b"/>
<rect x="280.8" y="1394.3" width="32.0" height="4.0" fill="#b09e88"/>
<path d="M275.3 1415.3 H330.8 L322.8 1437.3 H275.3 Z" fill="#9a8974"/>
<rect x="280.8" y="1420.3" width="36.0" height="5.0" fill="#b3a18b"/>
<rect x="280.8" y="1428.3" width="32.0" height="4.0" fill="#b09e88"/>
<rect x="502.8" y="1391.8" width="86.0" height="39.0" fill="#b29e86"/>
<rect x="480.8" y="1392.8" width="104.0" height="2.5" fill="#dbcab4"/>
<rect x="480.8" y="1427.3" width="104.0" height="2.5" fill="#dbcab4"/>
<rect x="506.8" y="1398.8" width="2.6" height="28.0" fill="#decdb8"/>
<rect x="515.2" y="1395.8" width="2.6" height="28.0" fill="#decdb8"/>
<rect x="523.6" y="1398.8" width="2.6" height="28.0" fill="#decdb8"/>
<rect x="532.0" y="1395.8" width="2.6" height="28.0" fill="#decdb8"/>
<rect x="540.4" y="1398.8" width="2.6" height="28.0" fill="#decdb8"/>
<rect x="548.8" y="1395.8" width="2.6" height="28.0" fill="#decdb8"/>
<rect x="557.2" y="1398.8" width="2.6" height="28.0" fill="#decdb8"/>
<rect x="565.6" y="1395.8" width="2.6" height="28.0" fill="#decdb8"/>
<rect x="574.0" y="1398.8" width="2.6" height="28.0" fill="#decdb8"/>
<ellipse cx="576.3" cy="1413" rx="20" ry="23.5" fill="none" stroke="#111" stroke-width="3.2" stroke-dasharray="0.1 8.6" stroke-linecap="round"/>
<rect x="752.0" y="1164.0" width="174.0" height="37.0" fill="#c9b59d"/>
<rect x="752.0" y="1164.0" width="174.0" height="4.6" fill="#bca890"/>
<rect x="752.0" y="1196.6" width="174.0" height="4.4" fill="#bca890"/>
<rect x="752.0" y="1168.6" width="4.7" height="28.0" fill="#d9c6ad"/>
<rect x="786.6" y="1170.3" width="74.5" height="24.6" fill="#e4d1b9"/>
<rect x="756.7" y="1178.3" width="29.9" height="6.3" fill="#dac7ae"/>
<rect x="861.1" y="1164.0" width="64.9" height="37.0" fill="#b9a58d"/>
<rect x="861.1" y="1169.1" width="64.9" height="26.9" fill="#c3af97"/>
<rect x="863.2" y="1171.4" width="12.6" height="22.3" fill="#a9967f"/>
<path d="M756.5 1165.4 H785.6 L781.4 1178.0 H756.5 Z" fill="#9a8974"/>
<rect x="759.3" y="1168.3" width="18.9" height="2.9" fill="#b3a18b"/>
<rect x="759.3" y="1172.9" width="16.8" height="2.3" fill="#b09e88"/>
<path d="M756.5 1184.9 H785.6 L781.4 1197.5 H756.5 Z" fill="#9a8974"/>
<rect x="759.3" y="1187.7" width="18.9" height="2.9" fill="#b3a18b"/>
<rect x="759.3" y="1192.3" width="16.8" height="2.3" fill="#b09e88"/>
<rect x="875.8" y="1171.4" width="42.0" height="22.3" fill="#a8947d"/>
<rect x="880.0" y="1174.3" width="1.6" height="16.6" fill="#c4b29c"/>
<rect x="885.8" y="1174.3" width="1.6" height="16.6" fill="#c4b29c"/>
<rect x="891.6" y="1174.3" width="1.6" height="16.6" fill="#c4b29c"/>
<rect x="897.3" y="1174.3" width="1.6" height="16.6" fill="#c4b29c"/>
<rect x="903.1" y="1174.3" width="1.6" height="16.6" fill="#c4b29c"/>
<rect x="908.9" y="1174.3" width="1.6" height="16.6" fill="#c4b29c"/>
<rect x="871" y="958" width="20.6" height="122" fill="url(#tube)"/>
<rect x="875" y="1080" width="13.2" height="13" fill="url(#tube)"/>
<path d="M878 1093 H885 L881.8 1105.5 H881 Z" fill="#5a5a5a"/>
<path d="M866 961 V957 H868.4 V936 Q868.4 921 881.3 921 Q894.4 921 894.4 936 V957 H896.6 V961 Z" fill="#050505"/>
<path d="M874.5 945 Q872.5 932 878.5 926" stroke="#999" stroke-width="2.2" fill="none"/>
<text x="361.0" y="1513.0" font-size="32.0" font-weight="normal" fill="#1c1c28" text-anchor="start" textLength="129.0" lengthAdjust="spacingAndGlyphs"  stroke="#1c1c28" stroke-width="0.90">MWCNTs</text>
<text x="425.5" y="1556.0" font-size="30.0" font-weight="normal" fill="#1c1c28" text-anchor="middle" >+</text>
<text x="246.0" y="1598.5" font-size="32.0" font-weight="normal" fill="#1c1c28" text-anchor="start" textLength="360.0" lengthAdjust="spacingAndGlyphs"  stroke="#1c1c28" stroke-width="0.90">Oxygen plasma treatment</text>
<text x="425.5" y="1641.0" font-size="30.0" font-weight="normal" fill="#1c1c28" text-anchor="middle" >+</text>
<text x="215.0" y="1685.0" font-size="32.0" font-weight="normal" fill="#1c1c28" text-anchor="start" textLength="412.0" lengthAdjust="spacingAndGlyphs"  stroke="#1c1c28" stroke-width="0.90">Gold nanoparticle decoration</text>
<text x="343.5" y="1728.0" font-size="32.0" font-weight="normal" fill="#1c1c28" text-anchor="start" textLength="163.0" lengthAdjust="spacingAndGlyphs"  stroke="#1c1c28" stroke-width="0.90">(sputtering)</text>
<text x="841.5" y="1258.0" font-size="30.0" font-weight="bold" fill="#111" text-anchor="middle" >+</text>
<text x="709.0" y="1301.0" font-size="31.0" font-weight="normal" fill="#1c1c28" text-anchor="start" textLength="257.0" lengthAdjust="spacingAndGlyphs"  stroke="#1c1c28" stroke-width="0.90">1-Hexadecanethiol</text>
<text x="800.5" y="1343.5" font-size="31.0" font-weight="normal" fill="#1c1c28" text-anchor="start" textLength="80.0" lengthAdjust="spacingAndGlyphs"  stroke="#1c1c28" stroke-width="0.90">(HDT)</text>
<text x="669.0" y="1384.5" font-size="31.0" font-weight="normal" fill="#3a3f4a" text-anchor="start" textLength="341.0" lengthAdjust="spacingAndGlyphs" >(4 h, Room Temperature)</text>
<path d="M603 1409 H1206" stroke="#7df07d" stroke-width="4" stroke-dasharray="4 13.5" fill="none"/>
<path d="M1213 1402.5 L1229 1409 L1213 1415.5 Z" fill="#22dd22"/>
<path d="M604 1427 L1205 1543" stroke="#8a8af2" stroke-width="4" stroke-dasharray="4 14.5" fill="none"/>
<path d="M1210 1538.5 L1226 1547 L1208.5 1551 Z" fill="#2222ee"/>
<ellipse cx="1521" cy="1531" rx="316" ry="30" transform="rotate(-1 1521 1531)" fill="none" stroke="#8282f2" stroke-width="4" stroke-dasharray="4 13"/>
<ellipse cx="1541" cy="1206" rx="398" ry="230" transform="rotate(-33.5 1541 1206)" fill="none" stroke="#3fcf4a" stroke-width="5.2" stroke-dasharray="4.6 6.9"/>
<path d="M1133 795 V1665" stroke="#8a8a8a" stroke-width="3.4" fill="none"/>
<path d="M1122 1649 H1921" stroke="#7f7f7f" stroke-width="3.6" fill="none"/>
<path d="M1122 796 H1922" stroke="#b4b4b4" stroke-width="4.6" fill="none"/>
<path d="M1920 794 V1665" stroke="#b4b4b4" stroke-width="4.6" fill="none"/>
<path d="M1127 826.6 H1133" stroke="#888" stroke-width="2.2"/>
<path d="M1122 857.1 H1133" stroke="#222" stroke-width="2.6"/>
<path d="M1127 887.5 H1133" stroke="#888" stroke-width="2.2"/>
<path d="M1122 918.0 H1133" stroke="#999" stroke-width="2.6"/>
<path d="M1127 948.5 H1133" stroke="#888" stroke-width="2.2"/>
<path d="M1122 979.0 H1133" stroke="#222" stroke-width="2.6"/>
<path d="M1127 1009.4 H1133" stroke="#888" stroke-width="2.2"/>
<path d="M1122 1039.9 H1133" stroke="#999" stroke-width="2.6"/>
<path d="M1127 1070.4 H1133" stroke="#888" stroke-width="2.2"/>
<path d="M1122 1100.8 H1133" stroke="#222" stroke-width="2.6"/>
<path d="M1127 1131.3 H1133" stroke="#888" stroke-width="2.2"/>
<path d="M1122 1161.8 H1133" stroke="#999" stroke-width="2.6"/>
<path d="M1127 1192.3 H1133" stroke="#888" stroke-width="2.2"/>
<path d="M1122 1222.8 H1133" stroke="#222" stroke-width="2.6"/>
<path d="M1127 1253.2 H1133" stroke="#888" stroke-width="2.2"/>
<path d="M1122 1283.7 H1133" stroke="#999" stroke-width="2.6"/>
<path d="M1127 1314.2 H1133" stroke="#888" stroke-width="2.2"/>
<path d="M1122 1344.7 H1133" stroke="#222" stroke-width="2.6"/>
<path d="M1127 1375.1 H1133" stroke="#888" stroke-width="2.2"/>
<path d="M1122 1405.6 H1133" stroke="#999" stroke-width="2.6"/>
<path d="M1127 1436.1 H1133" stroke="#888" stroke-width="2.2"/>
<path d="M1122 1466.5 H1133" stroke="#222" stroke-width="2.6"/>
<path d="M1127 1497.0 H1133" stroke="#888" stroke-width="2.2"/>
<path d="M1122 1527.5 H1133" stroke="#999" stroke-width="2.6"/>
<path d="M1127 1558.0 H1133" stroke="#888" stroke-width="2.2"/>
<path d="M1122 1588.5 H1133" stroke="#222" stroke-width="2.6"/>
<path d="M1127 1618.9 H1133" stroke="#888" stroke-width="2.2"/>
<path d="M1132.9 1649 V1665" stroke="#777" stroke-width="3"/>
<path d="M1176.7 1649 V1658" stroke="#888" stroke-width="2.6"/>
<path d="M1220.4 1649 V1665" stroke="#777" stroke-width="3"/>
<path d="M1264.2 1649 V1658" stroke="#888" stroke-width="2.6"/>
<path d="M1307.9 1649 V1665" stroke="#777" stroke-width="3"/>
<path d="M1351.7 1649 V1658" stroke="#888" stroke-width="2.6"/>
<path d="M1395.4 1649 V1665" stroke="#777" stroke-width="3"/>
<path d="M1439.2 1649 V1658" stroke="#888" stroke-width="2.6"/>
<path d="M1482.9 1649 V1665" stroke="#777" stroke-width="3"/>
<path d="M1526.7 1649 V1658" stroke="#888" stroke-width="2.6"/>
<path d="M1570.4 1649 V1665" stroke="#777" stroke-width="3"/>
<path d="M1614.2 1649 V1658" stroke="#888" stroke-width="2.6"/>
<path d="M1657.9 1649 V1665" stroke="#777" stroke-width="3"/>
<path d="M1701.7 1649 V1658" stroke="#888" stroke-width="2.6"/>
<path d="M1745.4 1649 V1665" stroke="#777" stroke-width="3"/>
<path d="M1789.2 1649 V1658" stroke="#888" stroke-width="2.6"/>
<path d="M1832.9 1649 V1665" stroke="#777" stroke-width="3"/>
<path d="M1876.7 1649 V1658" stroke="#888" stroke-width="2.6"/>
<path d="M1920.4 1649 V1665" stroke="#777" stroke-width="3"/>
<text x="1081.4" y="807.1" font-size="39.5" font-weight="bold" fill="#1e1e26" text-anchor="start" textLength="31.6" lengthAdjust="spacingAndGlyphs" >60</text>
<text x="1081.4" y="868.1" font-size="39.5" font-weight="bold" fill="#1e1e26" text-anchor="start" textLength="31.6" lengthAdjust="spacingAndGlyphs" >55</text>
<text x="1081.4" y="929.0" font-size="39.5" font-weight="bold" fill="#1e1e26" text-anchor="start" textLength="31.6" lengthAdjust="spacingAndGlyphs" >50</text>
<text x="1081.4" y="990.0" font-size="39.5" font-weight="bold" fill="#1e1e26" text-anchor="start" textLength="31.6" lengthAdjust="spacingAndGlyphs" >45</text>
<text x="1081.4" y="1050.9" font-size="39.5" font-weight="bold" fill="#1e1e26" text-anchor="start" textLength="31.6" lengthAdjust="spacingAndGlyphs" >40</text>
<text x="1081.4" y="1111.8" font-size="39.5" font-weight="bold" fill="#1e1e26" text-anchor="start" textLength="31.6" lengthAdjust="spacingAndGlyphs" >35</text>
<text x="1081.4" y="1172.8" font-size="39.5" font-weight="bold" fill="#1e1e26" text-anchor="start" textLength="31.6" lengthAdjust="spacingAndGlyphs" >30</text>
<text x="1081.4" y="1233.8" font-size="39.5" font-weight="bold" fill="#1e1e26" text-anchor="start" textLength="31.6" lengthAdjust="spacingAndGlyphs" >25</text>
<text x="1081.4" y="1294.7" font-size="39.5" font-weight="bold" fill="#1e1e26" text-anchor="start" textLength="31.6" lengthAdjust="spacingAndGlyphs" >20</text>
<text x="1081.4" y="1355.7" font-size="39.5" font-weight="bold" fill="#1e1e26" text-anchor="start" textLength="31.6" lengthAdjust="spacingAndGlyphs" >15</text>
<text x="1081.4" y="1416.6" font-size="39.5" font-weight="bold" fill="#1e1e26" text-anchor="start" textLength="31.6" lengthAdjust="spacingAndGlyphs" >10</text>
<text x="1097.2" y="1477.5" font-size="39.5" font-weight="bold" fill="#1e1e26" text-anchor="start" textLength="15.8" lengthAdjust="spacingAndGlyphs" >5</text>
<text x="1097.2" y="1538.5" font-size="39.5" font-weight="bold" fill="#1e1e26" text-anchor="start" textLength="15.8" lengthAdjust="spacingAndGlyphs" >0</text>
<text x="1088.2" y="1599.5" font-size="39.5" font-weight="bold" fill="#1e1e26" text-anchor="start" textLength="24.8" lengthAdjust="spacingAndGlyphs" >-5</text>
<text x="1072.4" y="1660.4" font-size="39.5" font-weight="bold" fill="#1e1e26" text-anchor="start" textLength="40.6" lengthAdjust="spacingAndGlyphs" >-10</text>
<text x="1118.1" y="1707.0" font-size="41.5" font-weight="bold" fill="#1e1e26" text-anchor="start" textLength="25.6" lengthAdjust="spacingAndGlyphs" >-2</text>
<text x="1212.1" y="1707.0" font-size="41.5" font-weight="bold" fill="#1e1e26" text-anchor="start" textLength="16.6" lengthAdjust="spacingAndGlyphs" >0</text>
<text x="1299.6" y="1707.0" font-size="41.5" font-weight="bold" fill="#1e1e26" text-anchor="start" textLength="16.6" lengthAdjust="spacingAndGlyphs" >2</text>
<text x="1387.1" y="1707.0" font-size="41.5" font-weight="bold" fill="#1e1e26" text-anchor="start" textLength="16.6" lengthAdjust="spacingAndGlyphs" >4</text>
<text x="1474.6" y="1707.0" font-size="41.5" font-weight="bold" fill="#1e1e26" text-anchor="start" textLength="16.6" lengthAdjust="spacingAndGlyphs" >6</text>
<text x="1562.1" y="1707.0" font-size="41.5" font-weight="bold" fill="#1e1e26" text-anchor="start" textLength="16.6" lengthAdjust="spacingAndGlyphs" >8</text>
<text x="1641.3" y="1707.0" font-size="41.5" font-weight="bold" fill="#1e1e26" text-anchor="start" textLength="33.2" lengthAdjust="spacingAndGlyphs" >10</text>
<text x="1728.8" y="1707.0" font-size="41.5" font-weight="bold" fill="#1e1e26" text-anchor="start" textLength="33.2" lengthAdjust="spacingAndGlyphs" >12</text>
<text x="1816.3" y="1707.0" font-size="41.5" font-weight="bold" fill="#1e1e26" text-anchor="start" textLength="33.2" lengthAdjust="spacingAndGlyphs" >14</text>
<text x="1903.8" y="1707.0" font-size="41.5" font-weight="bold" fill="#1e1e26" text-anchor="start" textLength="33.2" lengthAdjust="spacingAndGlyphs" >16</text>
<text x="1314.0" y="1759.0" font-size="38.0" font-weight="bold" fill="#1a1a20" text-anchor="start" textLength="421.0" lengthAdjust="spacingAndGlyphs" >Vapors Concentrations (ppm)</text>
<g transform="translate(1063 1326) rotate(-90) scale(0.8 1)">
<text y="0" font-size="45" fill="#111"><tspan x="0" fill="#666" textLength="23" lengthAdjust="spacingAndGlyphs">Δ</tspan><tspan x="35" stroke="#111" stroke-width="1" textLength="40" lengthAdjust="spacingAndGlyphs">R</tspan><tspan x="76" fill="#444">/</tspan><tspan x="91.5" stroke="#111" stroke-width="1" textLength="35" lengthAdjust="spacingAndGlyphs">R</tspan></text>
<text y="12" x="127" font-size="26" fill="#555">0</text>
<text y="0" font-size="44" fill="#484848"><tspan x="164">(</tspan><tspan x="181" textLength="30" lengthAdjust="spacingAndGlyphs">%</tspan><tspan x="227">)</tspan></text>
</g>
<ellipse cx="1163.8" cy="823.5" rx="6.3" ry="9" fill="#000"/>
<rect x="1158.5" y="863.5" width="11" height="16" fill="#f00"/>
<ellipse cx="1163.8" cy="919" rx="6" ry="9" fill="none" stroke="#999" stroke-width="1.6"/>
<rect x="1158.5" y="958.5" width="11" height="16" fill="none" stroke="#f99" stroke-width="1.6"/>
<text x="1204.6" y="836.0" font-size="38.0" font-weight="normal" fill="#484852" text-anchor="start" textLength="336.0" lengthAdjust="spacingAndGlyphs" >HDT/Au-MWCNTs+Benzene</text>
<text x="1204.6" y="883.5" font-size="38.0" font-weight="normal" fill="#484852" text-anchor="start" textLength="327.0" lengthAdjust="spacingAndGlyphs" >HDT/Au-MWCNTs+Toluene</text>
<text x="1204.6" y="931.5" font-size="38.0" font-weight="normal" fill="#484852" text-anchor="start" textLength="274.0" lengthAdjust="spacingAndGlyphs" >Au-MWCNTs+Benzene</text>
<text x="1204.6" y="979.5" font-size="38.0" font-weight="normal" fill="#484852" text-anchor="start" textLength="266.0" lengthAdjust="spacingAndGlyphs" >Au-MWCNTs+Toluene</text>
<path d="M1200.4 1582.0 L1567.6 923.4" stroke="#f88" stroke-width="1.4" fill="none"/>
<path d="M1231.0 1527.0 L1860.0 1265.5" stroke="#777" stroke-width="1.3" fill="none"/>
<path d="M1186.0 1537.0 L1646.0 1490.6" stroke="#f77" stroke-width="1.5" stroke-dasharray="16 5 4 5" fill="none"/>
<path d="M1232.0 1526.5 L1862.0 1520.5" stroke="#777" stroke-width="1.5" stroke-dasharray="13 9" fill="none"/>
<path d="M1301.9 1524.5 l6 -8 l6 8 l-6 8 Z" fill="none" stroke="#aaa" stroke-width="1.25"/>
<path d="M1389.4 1523.8 l6 -8 l6 8 l-6 8 Z" fill="none" stroke="#aaa" stroke-width="1.25"/>
<path d="M1433.2 1523.8 l6 -8 l6 8 l-6 8 Z" fill="none" stroke="#aaa" stroke-width="1.25"/>
<path d="M1520.7 1521.4 l6 -8 l6 8 l-6 8 Z" fill="none" stroke="#aaa" stroke-width="1.25"/>
<path d="M1586.3 1521.4 l6 -8 l6 8 l-6 8 Z" fill="none" stroke="#aaa" stroke-width="1.25"/>
<path d="M1695.7 1520.2 l6 -8 l6 8 l-6 8 Z" fill="none" stroke="#aaa" stroke-width="1.25"/>
<path d="M1783.2 1517.7 l6 -8 l6 8 l-6 8 Z" fill="none" stroke="#aaa" stroke-width="1.25"/>
<rect x="1237.3" y="1518.1" width="10" height="14" fill="none" stroke="#f88" stroke-width="1.35"/>
<rect x="1302.9" y="1517.3" width="10" height="14" fill="none" stroke="#f88" stroke-width="1.35"/>
<rect x="1390.4" y="1513.7" width="10" height="14" fill="none" stroke="#f88" stroke-width="1.35"/>
<rect x="1434.2" y="1510.3" width="10" height="14" fill="none" stroke="#f88" stroke-width="1.35"/>
<rect x="1521.7" y="1494.9" width="10" height="14" fill="none" stroke="#f88" stroke-width="1.35"/>
<rect x="1587.3" y="1481.5" width="10" height="14" fill="none" stroke="#f88" stroke-width="1.35"/>
<path d="M1526.7 899.7 V1011.9 M1521.7 899.7 H1531.7 M1521.7 1011.9 H1531.7" stroke="#f66" stroke-width="1.6" fill="none"/>
<path d="M1439.2 1156.9 V1222.8 M1434.2 1156.9 H1444.2 M1434.2 1222.8 H1444.2" stroke="#f66" stroke-width="1.6" fill="none"/>
<path d="M1395.4 1247.1 V1298.3 M1390.4 1247.1 H1400.4 M1390.4 1298.3 H1400.4" stroke="#f66" stroke-width="1.6" fill="none"/>
<path d="M1307.9 1369.0 V1400.7 M1302.9 1369.0 H1312.9 M1302.9 1400.7 H1312.9" stroke="#f66" stroke-width="1.6" fill="none"/>
<rect x="1237.1" y="1478.6" width="10.5" height="15" fill="#f00"/>
<rect x="1302.7" y="1376.2" width="10.5" height="15" fill="#f00"/>
<rect x="1390.2" y="1264.0" width="10.5" height="15" fill="#f00"/>
<rect x="1434.0" y="1184.8" width="10.5" height="15" fill="#f00"/>
<rect x="1521.5" y="947.1" width="10.5" height="15" fill="#f00"/>
<path d="M1789.2 1271.5 V1319.1 M1784.2 1271.5 H1794.2 M1784.2 1319.1 H1794.2" stroke="#444" stroke-width="1.6" fill="none"/>
<path d="M1701.7 1316.6 V1354.4 M1696.7 1316.6 H1706.7 M1696.7 1354.4 H1706.7" stroke="#444" stroke-width="1.6" fill="none"/>
<path d="M1592.3 1364.2 V1394.6 M1587.3 1364.2 H1597.3 M1587.3 1394.6 H1597.3" stroke="#444" stroke-width="1.6" fill="none"/>
<path d="M1526.7 1391.0 V1415.4 M1521.7 1391.0 H1531.7 M1521.7 1415.4 H1531.7" stroke="#444" stroke-width="1.6" fill="none"/>
<ellipse cx="1307.9" cy="1500.7" rx="5.8" ry="8" fill="#000"/>
<ellipse cx="1439.2" cy="1443.6" rx="5.8" ry="8" fill="#000"/>
<ellipse cx="1526.7" cy="1404.4" rx="5.8" ry="8" fill="#000"/>
<ellipse cx="1592.3" cy="1378.8" rx="5.8" ry="8" fill="#000"/>
<ellipse cx="1701.7" cy="1335.3" rx="5.8" ry="8" fill="#000"/>
<ellipse cx="1789.2" cy="1295.9" rx="5.8" ry="8" fill="#000"/>
<rect x="1553.5" y="1033" width="296" height="147" fill="#000"/>
<path d="M1553.5 1033 H1849.5 L1841 1041.5 H1562 V1171.5 L1553.5 1180 Z" fill="#c0c0c0"/>
<rect x="1562" y="1041.5" width="279" height="130" fill="#808080"/>
<text x="1590.0" y="1084.5" font-size="48.0" font-weight="normal" fill="#00ffff" text-anchor="start" textLength="194.0" lengthAdjust="spacingAndGlyphs" >Sensitivity</text>
<text x="1564.0" y="1143.5" font-size="48.0" font-weight="normal" fill="#00ffff" text-anchor="start" textLength="261.0" lengthAdjust="spacingAndGlyphs" >Enhancement</text>
</g>
</svg>
<div id="rule"></div>
<div id="cite" class="abs"><i>Beilstein J. Nanotechnol.</i> <b>2019,</b> <i>10,</i> 2364–2373. doi:10.3762/bjnano.10.227</div>
<div id="lic" class="abs">CC BY 4.0</div>
</div>
</body>
</html>
